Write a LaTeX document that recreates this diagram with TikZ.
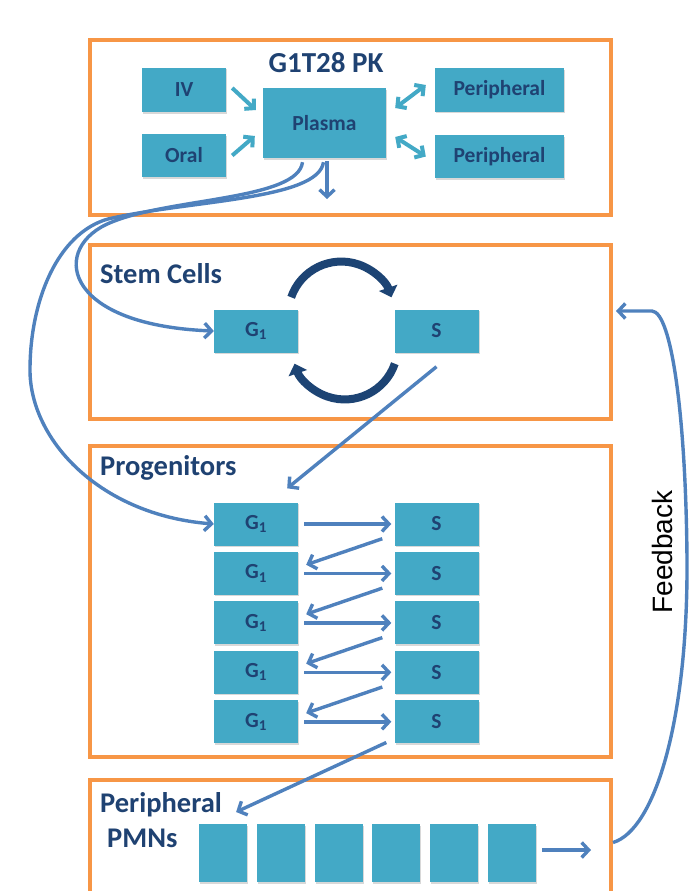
\documentclass[tikz,border=0pt]{standalone}
\usepackage{fontspec}
\setmainfont{Carlito}
\newfontfamily\feedbackfont{Liberation Sans}
\usetikzlibrary{arrows.meta,shadows}
\definecolor{boxorange}{HTML}{F79646}
\definecolor{cellteal}{HTML}{43A9C6}
\definecolor{labelnavy}{HTML}{1F4272}
\definecolor{linkblue}{HTML}{4F81BD}
\definecolor{cyclenavy}{HTML}{1D4474}
\tikzset{
  panel/.style={draw=boxorange,line width=4pt,fill=white,inner sep=0pt,
    drop shadow={shadow xshift=1pt,shadow yshift=-1.5pt,opacity=.15}},
  cell/.style={fill=cellteal,text=labelnavy,inner sep=0pt,
    font=\bfseries\fontsize{21.5}{21.5}\selectfont,
    drop shadow={shadow xshift=1pt,shadow yshift=-1.5pt,opacity=.3}},
  phase/.style={cell,minimum width=84pt,minimum height=43pt},
  heading/.style={text=labelnavy,inner sep=0pt,font=\bfseries\fontsize{28.5}{28.5}\selectfont},
  link/.style={draw=linkblue,line width=3.4pt,-{Straight Barb[length=7pt,width=15pt]}},
  pklink/.style={draw=cellteal,line width=4pt,-{Straight Barb[length=6.5pt,width=14pt]}},
  pkboth/.style={pklink,{Straight Barb[length=6.5pt,width=14pt]}-{Straight Barb[length=6.5pt,width=14pt]}},
  cyclearrow/.style={draw=cyclenavy,line width=8pt,-{Triangle[length=10pt,width=19pt]}}
}
\begin{document}
\begin{tikzpicture}[x=1pt,y=-1pt]
          \useasboundingbox (0,0) rectangle (693,891);
          % the four compartments
          \node[panel,minimum width=521pt,minimum height=175pt] (pkpanel) at (350.5,127.5) {};
          \node[panel,minimum width=521pt,minimum height=174pt] (stempanel) at (350.5,332) {};
          \node[panel,minimum width=521pt,minimum height=311pt] (progpanel) at (350.5,601.5) {};
          \node[panel,minimum width=521pt,minimum height=125pt] (pmnpanel) at (350.5,842.5) {};

          % PK model
          \node[heading,anchor=base,font=\bfseries\fontsize{29}{29}\selectfont] (pktitle) at (326,73) {G1T28 PK};
          \node[cell,minimum width=84pt,minimum height=44pt] (iv) at (184,90) {IV};
          \node[cell,minimum width=84pt,minimum height=43pt] (oral) at (184,155.5) {Oral};
          \node[cell,minimum width=123pt,minimum height=70pt] (plasma) at (324.5,123) {Plasma};
          \node[cell,minimum width=129pt,minimum height=43pt] (periphA) at (499.5,90) {Peripheral};
          \node[cell,minimum width=129pt,minimum height=43pt] (periphB) at (499.5,156.5) {Peripheral};
          \draw[pklink] ([shift={(6pt,2pt)}]iv.east) -- ([shift={(-7pt,13pt)}]plasma.west);
          \draw[pklink] ([xshift=6pt]oral.east) -- ([shift={(-8pt,-13pt)}]plasma.west);
          \draw[pkboth] ([shift={(9pt,15pt)}]plasma.east) -- ([shift={(-9pt,5pt)}]periphA.west);
          \draw[pkboth] ([shift={(9pt,-14pt)}]plasma.east) -- ([xshift=-9pt]periphB.west);
          \coordinate (plasmaout) at (327,199);
          \draw[link] ([shift={(2.5pt,-3pt)}]plasma.south) -- (plasmaout);

          % stem cells
          \node[heading,anchor=base west] (stemtitle) at (100,283) {Stem Cells};
          \node[phase] (stemg) at (256,331) {G\textsubscript{1}};
          \node[phase] (stems) at (436.5,331) {S};
          \draw[cyclearrow] ([shift={(-7pt,12pt)}]stemg.north east) arc[start angle=199,end angle=341,radius=53];
          \draw[cyclearrow] ([shift={(0.5pt,-11pt)}]stems.south west) arc[start angle=19,end angle=161,radius=53];

          % progenitors
          \node[heading,anchor=base west] (progtitle) at (100,475) {Progenitors};
          \foreach \i in {1,...,5}{
            \node[phase] (g\i) at (256,{524+49.45*(\i-1)}) {G\textsubscript{1}};
            \node[phase] (s\i) at (436.5,{524+49.45*(\i-1)}) {S};
            \draw[link] ([xshift=6pt]g\i.east) -- ([xshift=-3pt]s\i.west);
          }
          \foreach \i [evaluate=\i as \j using int(\i+1)] in {1,...,4}{
            \draw[link] ([shift={(-12pt,7pt)}]s\i.south west) -- ([shift={(8pt,-13pt)}]g\j.north east);
          }

          % peripheral PMNs
          \node[heading,anchor=base west] (pmntitleA) at (100,812) {Peripheral};
          \node[heading,anchor=base west] (pmntitleB) at (107,847) {PMNs};
          \foreach \i in {0,...,5}
            \node[cell,minimum width=48pt,minimum height=58pt] (pmn\i) at ({223+57.8*\i},853) {};
          \coordinate (pmnout) at (591,850);
          \draw[link] ([shift={(6pt,3pt)}]pmn5.east) -- (pmnout);

          % transit between compartments
          \draw[link] ([shift={(-22pt,-4pt)}]plasma.south) .. controls (298,200) and (170,198) .. (112,222)
                .. controls (50,246) and (60,325) .. (stemg.west);
          \draw[link] ([shift={(-1pt,-4pt)}]plasma.south) .. controls (318,200) and (190,200) .. (108,219)
                .. controls (58,233) and (30,300) .. (30,370)
                .. controls (30,440) and (100,515) .. (g1.west);
          \draw[link] ([yshift=-14pt]stems.south) -- ([shift={(-11pt,14pt)}]g1.north east);
          \draw[link] ([shift={(-8pt,1pt)}]s5.south west) -- ([xshift=14pt]pmntitleA.base east);

          % feedback
          \node[rotate=90,inner sep=0pt,font=\feedbackfont\fontsize{28}{28}\selectfont] (fblabel) at (662,552) {Feedback};
          \draw[link] (pmnpanel.east) .. controls (655,830) and (688,720) .. (687,560)
                .. controls (686,420) and (672,312) .. (652,311) -- ([shift={(3pt,21pt)}]stempanel.east);
        \end{tikzpicture}
\end{document}
